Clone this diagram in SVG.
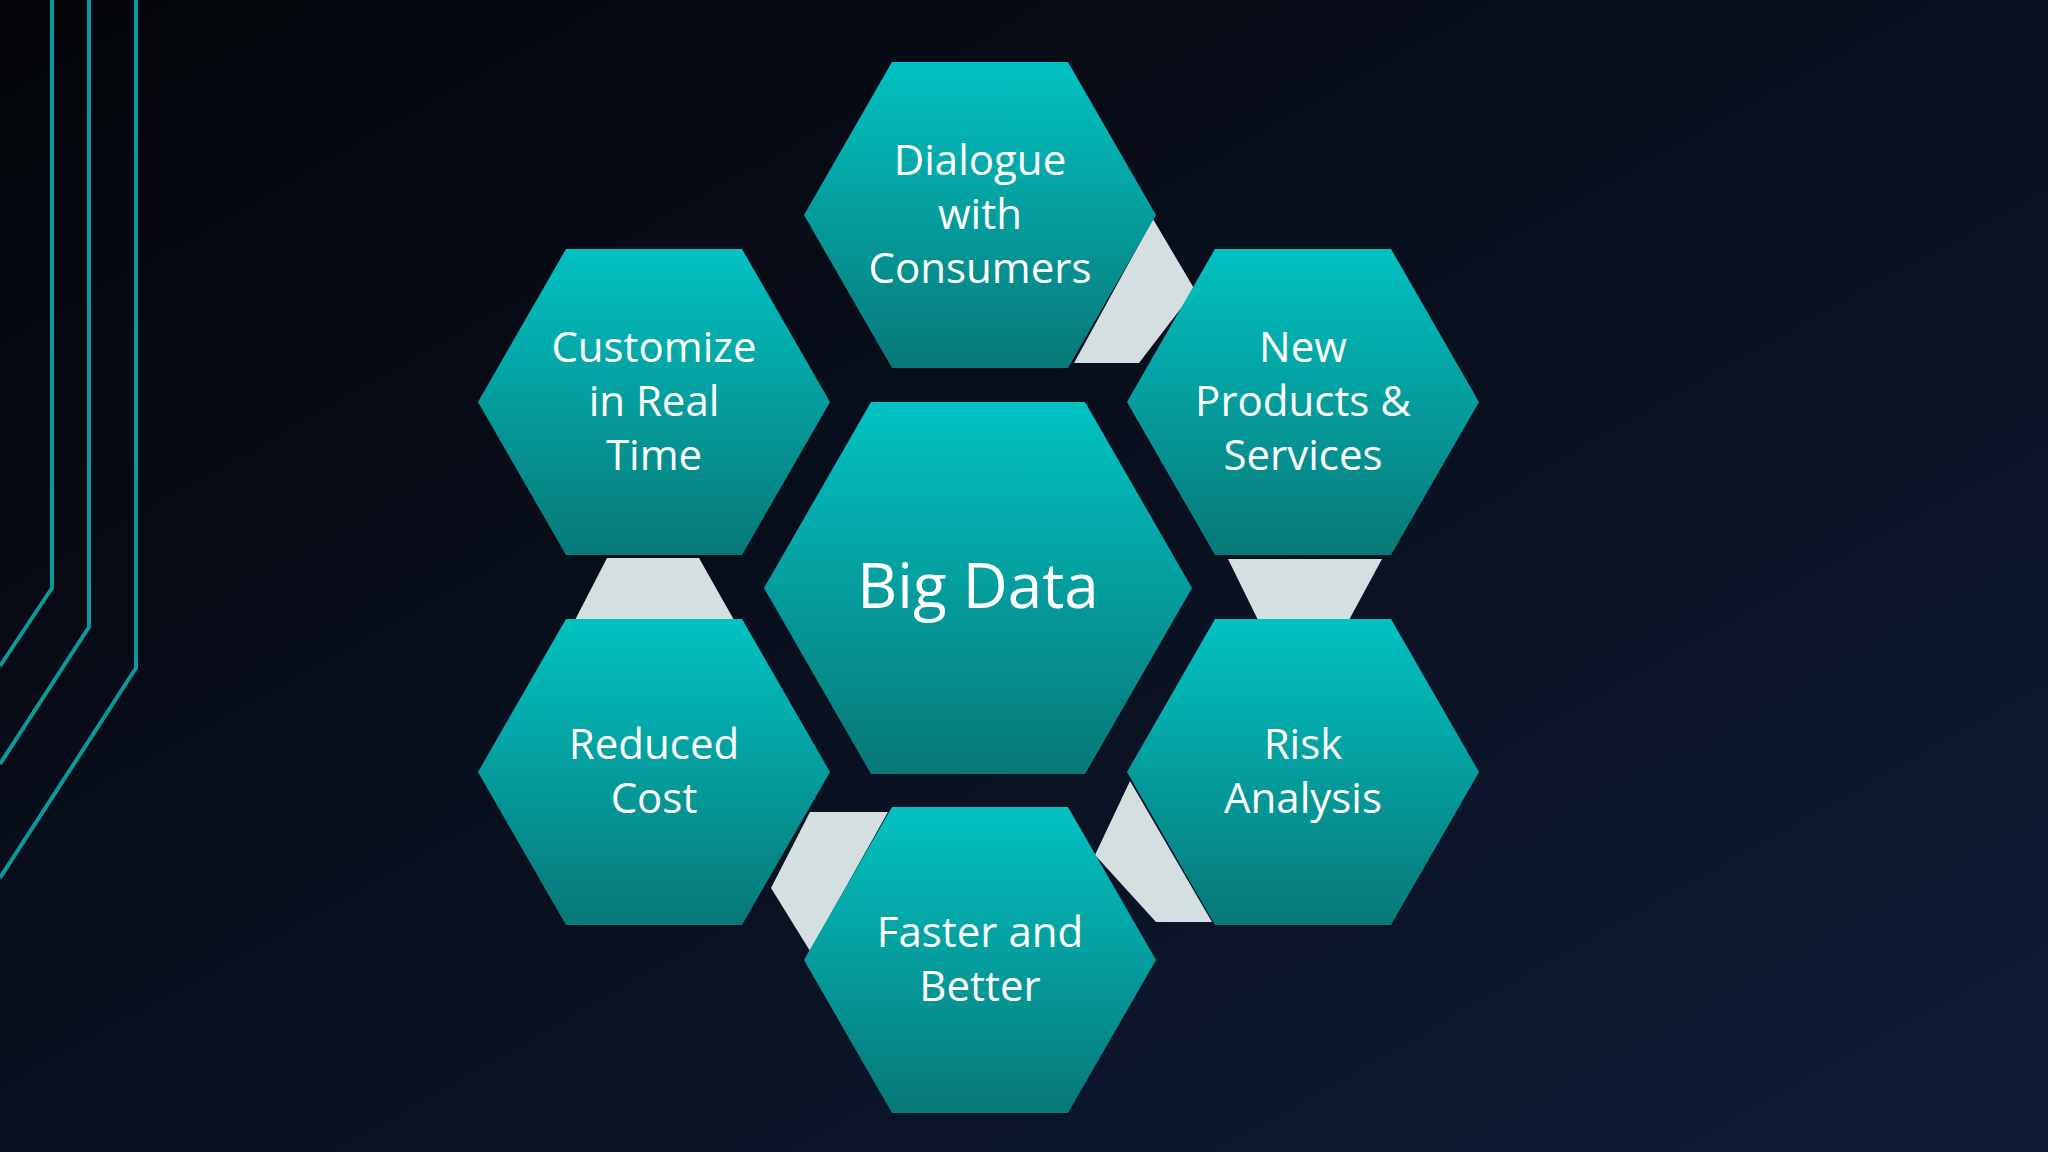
<svg xmlns="http://www.w3.org/2000/svg" width="2048" height="1152" viewBox="0 0 2048 1152">
<defs>
<linearGradient id="bg" x1="0" y1="0" x2="1" y2="1"><stop offset="0" stop-color="#030509"/><stop offset="1" stop-color="#0f1b36"/></linearGradient>
<linearGradient id="hg" x1="0" y1="0" x2="0" y2="1"><stop offset="0" stop-color="#02c2c2"/><stop offset="1" stop-color="#087878"/></linearGradient>
<style>
.h{fill:url(#hg)}
.t{fill:#fff;font-family:"Open Sans","Noto Sans",sans-serif;font-size:42px;text-anchor:middle}
.b{font-size:62px}
.c{fill:#d3dfe0}
.l{fill:none;stroke:#0a9a9e;stroke-width:4}
</style>
</defs>
<rect width="2048" height="1152" fill="url(#bg)"/>
<path class="l" d="M136 0V668L0 878M89 0V627L0 764M52 0V588L0 666"/>
<g id="connectors">
<polygon class="c" points="1153,219 1195,290 1139,363 1074,363"/>
<polygon class="c" points="1228,559 1382,559 1349,620 1258,620"/>
<polygon class="c" points="1130,781 1212,922 1156,922 1095,855"/>
<polygon class="c" points="810,812 888,812 810,951 771,888"/>
<polygon class="c" points="607,558 699,558 734,620 575,620"/>
</g>
<g id="big-data"><polygon class="h" points="764,588 871,402 1085,402 1192,588 1085,774 871,774"/><text class="t b" x="978" y="608">Big Data</text></g>
<g id="dialogue"><polygon class="h" points="804,215 892,62 1068,62 1156,215 1068,368 892,368"/><text class="t" x="980" y="175">Dialogue</text><text class="t" x="980" y="229">with</text><text class="t" x="980" y="283">Consumers</text></g>
<g id="customize"><polygon class="h" points="478,402 566,249 742,249 830,402 742,555 566,555"/><text class="t" x="654" y="362">Customize</text><text class="t" x="654" y="416">in Real</text><text class="t" x="654" y="470">Time</text></g>
<g id="new-products"><polygon class="h" points="1127,402 1215,249 1391,249 1479,402 1391,555 1215,555"/><text class="t" x="1303" y="362">New</text><text class="t" x="1303" y="416">Products &amp;</text><text class="t" x="1303" y="470">Services</text></g>
<g id="reduced-cost"><polygon class="h" points="478,772 566,619 742,619 830,772 742,925 566,925"/><text class="t" x="654" y="759">Reduced</text><text class="t" x="654" y="813">Cost</text></g>
<g id="risk"><polygon class="h" points="1127,772 1215,619 1391,619 1479,772 1391,925 1215,925"/><text class="t" x="1303" y="759">Risk</text><text class="t" x="1303" y="813">Analysis</text></g>
<g id="faster"><polygon class="h" points="804,960 892,807 1068,807 1156,960 1068,1113 892,1113"/><text class="t" x="980" y="947">Faster and</text><text class="t" x="980" y="1001">Better</text></g>
</svg>
